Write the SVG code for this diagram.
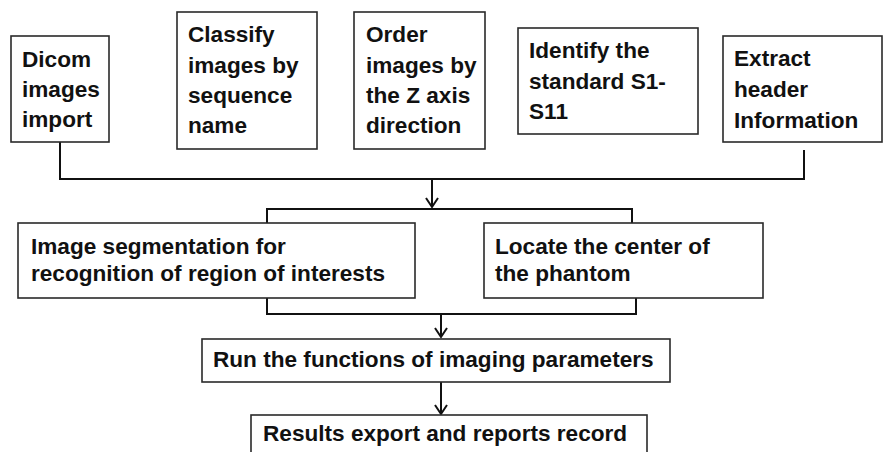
<svg xmlns="http://www.w3.org/2000/svg" width="884" height="452" viewBox="0 0 884 452">
<style>
.box{fill:#fff;stroke:#2a2a2a;stroke-width:1.6}
.t{font-family:"Liberation Sans",Arial,sans-serif;font-weight:bold;font-size:22.6px;fill:#111}
.c{fill:none;stroke:#111;stroke-width:2}
</style>
<defs>
<marker id="ah" markerWidth="12" markerHeight="14" refX="10" refY="7" orient="auto" markerUnits="userSpaceOnUse" viewBox="0 0 12 14">
<path d="M1,1 L10,7 L1,13" fill="none" stroke="#111" stroke-width="2"/>
</marker>
</defs>
<rect width="884" height="452" fill="#fff"/>
<g id="connectors">
<path class="c" d="M60,142 V179 H804 V150"/>
<path class="c" d="M432,179 V207" marker-end="url(#ah)"/>
<path class="c" d="M267,223 V209 H632 V223"/>
<path class="c" d="M267,298 V314 H636 V298"/>
<path class="c" d="M441,314 V337" marker-end="url(#ah)"/>
<path class="c" d="M441,382 V414" marker-end="url(#ah)"/>
</g>
<g id="n1">
<rect class="box" x="11" y="36" width="98" height="106"/>
<text class="t" x="22" y="67">Dicom</text>
<text class="t" x="22" y="97">images</text>
<text class="t" x="22" y="127">import</text>
</g>
<g id="n2">
<rect class="box" x="177" y="12" width="140" height="137"/>
<text class="t" x="188" y="42">Classify</text>
<text class="t" x="188" y="73">images by</text>
<text class="t" x="188" y="103">sequence</text>
<text class="t" x="188" y="133">name</text>
</g>
<g id="n3">
<rect class="box" x="354" y="12" width="131" height="137"/>
<text class="t" x="366" y="42">Order</text>
<text class="t" x="366" y="73">images by</text>
<text class="t" x="366" y="103">the Z axis</text>
<text class="t" x="366" y="133">direction</text>
</g>
<g id="n4">
<rect class="box" x="518" y="28" width="180" height="106"/>
<text class="t" x="529" y="58">Identify the</text>
<text class="t" x="529" y="89">standard S1-</text>
<text class="t" x="529" y="119">S11</text>
</g>
<g id="n5">
<rect class="box" x="723" y="36" width="159" height="106"/>
<text class="t" x="734" y="66">Extract</text>
<text class="t" x="734" y="97">header</text>
<text class="t" x="734" y="128">Information</text>
</g>
<g id="n6">
<rect class="box" x="18" y="223" width="397" height="75"/>
<text class="t" x="31" y="254">Image segmentation for</text>
<text class="t" x="31" y="281">recognition of region of interests</text>
</g>
<g id="n7">
<rect class="box" x="484" y="223" width="279" height="75"/>
<text class="t" x="495" y="254">Locate the center of</text>
<text class="t" x="495" y="281">the phantom</text>
</g>
<g id="n8">
<rect class="box" x="202" y="339" width="468" height="43"/>
<text class="t" x="213" y="367">Run the functions of imaging parameters</text>
</g>
<g id="n9">
<rect class="box" x="251" y="415" width="396" height="50"/>
<text class="t" x="263" y="441">Results export and reports record</text>
</g>
</svg>
